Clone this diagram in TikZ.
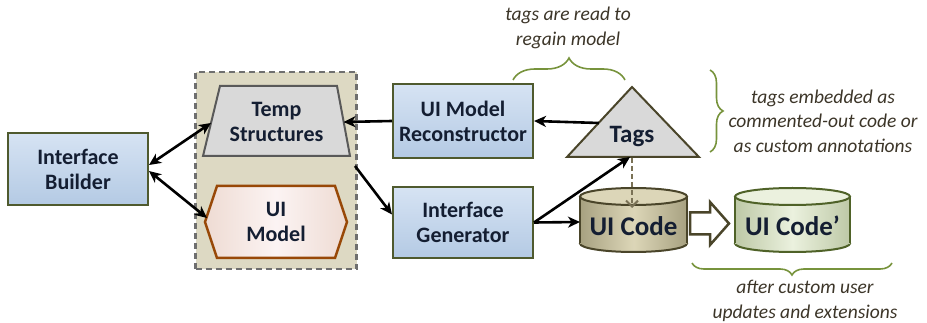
\documentclass[tikz,border=0pt]{standalone}
\usepackage{fontspec}
\setmainfont{Carlito}
\usetikzlibrary{arrows.meta,decorations.pathreplacing}
\definecolor{navy}{HTML}{141E32}
\definecolor{boxborder}{HTML}{4F5A2E}
\definecolor{blueT}{HTML}{D6E3F3}
\definecolor{blueB}{HTML}{B4CAE4}
\definecolor{contfill}{HTML}{DDD9C3}
\definecolor{contborder}{HTML}{6F6F6F}
\definecolor{grayfill}{HTML}{D9D9D9}
\definecolor{grayborder}{HTML}{595959}
\definecolor{pinkfill}{HTML}{F6E2E1}
\definecolor{pinkborder}{HTML}{984807}
\definecolor{tanfill}{HTML}{C4BD97}
\definecolor{tanlight}{HTML}{DCD6B8}
\definecolor{tanborder}{HTML}{4A452A}
\definecolor{greenfill}{HTML}{D7E4BD}
\definecolor{greenlight}{HTML}{EBF1DE}
\definecolor{greenborder}{HTML}{4F6228}
\definecolor{bracec}{HTML}{77933C}
\definecolor{notec}{HTML}{3C3528}
\definecolor{dashc}{HTML}{7A7256}
\begin{document}
\begin{tikzpicture}[x=1pt,y=-1pt,
  boxtext/.style={font=\fontsize{22}{25}\selectfont\bfseries, text=navy, align=center},
  bluebox/.style={boxtext, draw=boxborder, line width=2pt, top color=blueT, bottom color=blueB, inner sep=0pt},
  tip/.style={Stealth[length=12pt,width=11pt,inset=3.5pt]},
  conn/.style={line width=2.6pt, -{Stealth[length=12pt,width=11pt,inset=3.5pt]}},
  dconn/.style={line width=2.6pt, {Stealth[length=12pt,width=11pt,inset=3.5pt]}-{Stealth[length=12pt,width=11pt,inset=3.5pt]}},
  note/.style={font=\fontsize{19.5}{24.5}\selectfont\itshape, text=notec, align=center},
  bracestyle/.style={draw=bracec, line width=1.6pt, decorate, decoration={brace, amplitude=#1}},
]
\useasboundingbox (0,0) rectangle (927,323);

% container
\node[draw=contborder, dash pattern=on 6pt off 4pt, line width=2.2pt, fill=contfill, minimum width=161pt, minimum height=197pt, inner sep=0pt] (cont) at (276,170.5) {};

% Interface Builder
\node[bluebox, minimum width=140pt, minimum height=72pt] (ib) at (78,169) {Interface\\Builder};

% Temp Structures trapezoid
\draw[fill=grayfill, draw=grayborder, line width=2pt] (220,86) -- (337,86) -- (350,156) -- (203,156) -- cycle;
\node[boxtext] (ts) at (276.5,122) {Temp\\Structures};
\coordinate (tsL) at (211,123);
\coordinate (tsR) at (343.5,122);
\coordinate (tsBR) at (355,166);

% UI Model hexagon
\draw[left color=pinkfill!80!pinkborder!60!white, right color=pinkfill!80!pinkborder!60!white, middle color=white!60!pinkfill, draw=pinkborder, line width=2.5pt]
  (205,222) -- (217,186) -- (335,186) -- (347,222) -- (335,258) -- (217,258) -- cycle;
\node[boxtext] (um) at (276,222) {UI\\Model};
\coordinate (umL) at (207,218);

% UI Model Reconstructor and Interface Generator
\node[bluebox, minimum width=140pt, minimum height=74pt] (rec) at (463,121) {UI Model\\Reconstructor};
\node[bluebox, minimum width=140pt, minimum height=71pt] (gen) at (463,222.5) {Interface\\Generator};

% Tags triangle
\draw[fill=grayfill, draw=tanborder, line width=2pt] (632,87) -- (699,157) -- (567,157) -- cycle;
\node[font=\fontsize{25}{28}\selectfont\bfseries, text=navy] (tags) at (632,137) {Tags};
\coordinate (tagsL) at (599,123);
\coordinate (tagsB) at (630,157);

% UI Code cylinder
\fill[left color=tanfill!85!black, right color=tanfill!85!black, middle color=tanlight] (633.5,243.5) ellipse [x radius=53.5, y radius=8.5];
\draw[tanborder, line width=2pt] (633.5,243.5) ellipse [x radius=53.5, y radius=8.5];
\fill[left color=tanfill!85!black, right color=tanfill!85!black, middle color=tanlight] (580,196.5) rectangle (687,243.5);
\draw[tanborder, line width=2pt] (580,196.5) -- (580,243.5) (687,196.5) -- (687,243.5);
\draw[fill=tanlight, draw=tanborder, line width=2pt] (633.5,196.5) ellipse [x radius=53.5, y radius=8.5];
\node[font=\fontsize{27}{30}\selectfont\bfseries, text=navy] (code) at (633.5,226) {UI Code};
\coordinate (codeL) at (580,222);

% UI Code' cylinder
\fill[left color=greenfill!88!black, right color=greenfill!88!black, middle color=greenlight] (792.5,243.5) ellipse [x radius=57.5, y radius=8.5];
\draw[greenborder, line width=2pt] (792.5,243.5) ellipse [x radius=57.5, y radius=8.5];
\fill[left color=greenfill!88!black, right color=greenfill!88!black, middle color=greenlight] (735,196.5) rectangle (850,243.5);
\draw[greenborder, line width=2pt] (735,196.5) -- (735,243.5) (850,196.5) -- (850,243.5);
\draw[fill=greenlight, draw=greenborder, line width=2pt] (792.5,196.5) ellipse [x radius=57.5, y radius=8.5];
\node[font=\fontsize{27}{30}\selectfont\bfseries, text=navy] (code2) at (792.5,226) {UI Code’};

% hollow arrow
\draw[fill=white, draw=tanborder, line width=2.5pt]
  (690,212.5) -- (710,212.5) -- (710,202) -- (729,223.5) -- (710,245) -- (710,234.5) -- (690,234.5) -- cycle;

% connectors
\draw[dconn] ([yshift=4pt]ib.east) -- (tsL);
\draw[dconn] ([yshift=-2pt]ib.east) -- (umL);
\draw[conn] (rec.west) -- (tsR);
\draw[conn] (tsBR) -- ([yshift=8pt]gen.west);
\draw[conn] (tagsL) -- (rec.east);
\draw[conn] (gen.east) -- (codeL);
\draw[conn] (gen.east) -- (tagsB);
\draw[dashc, line width=2pt, dash pattern=on 5pt off 3pt, -{Straight Barb[length=6pt,width=12pt]}] (632,158) -- (632,208);

% braces and notes
\draw[bracestyle=22pt] (513,80) -- (625,80);
\node[note] (n1) at (568,28) {tags are read to\\regain model};
\draw[bracestyle=13pt] (710,70) -- (710,152);
\node[note] (n2) at (823,121) {tags embedded as\\commented-out code or\\as custom annotations};
\draw[bracestyle=12pt] (892,263) -- (692,263);
\node[note] (n3) at (805,301) {after custom user\\updates and extensions};
\end{tikzpicture}
\end{document}
